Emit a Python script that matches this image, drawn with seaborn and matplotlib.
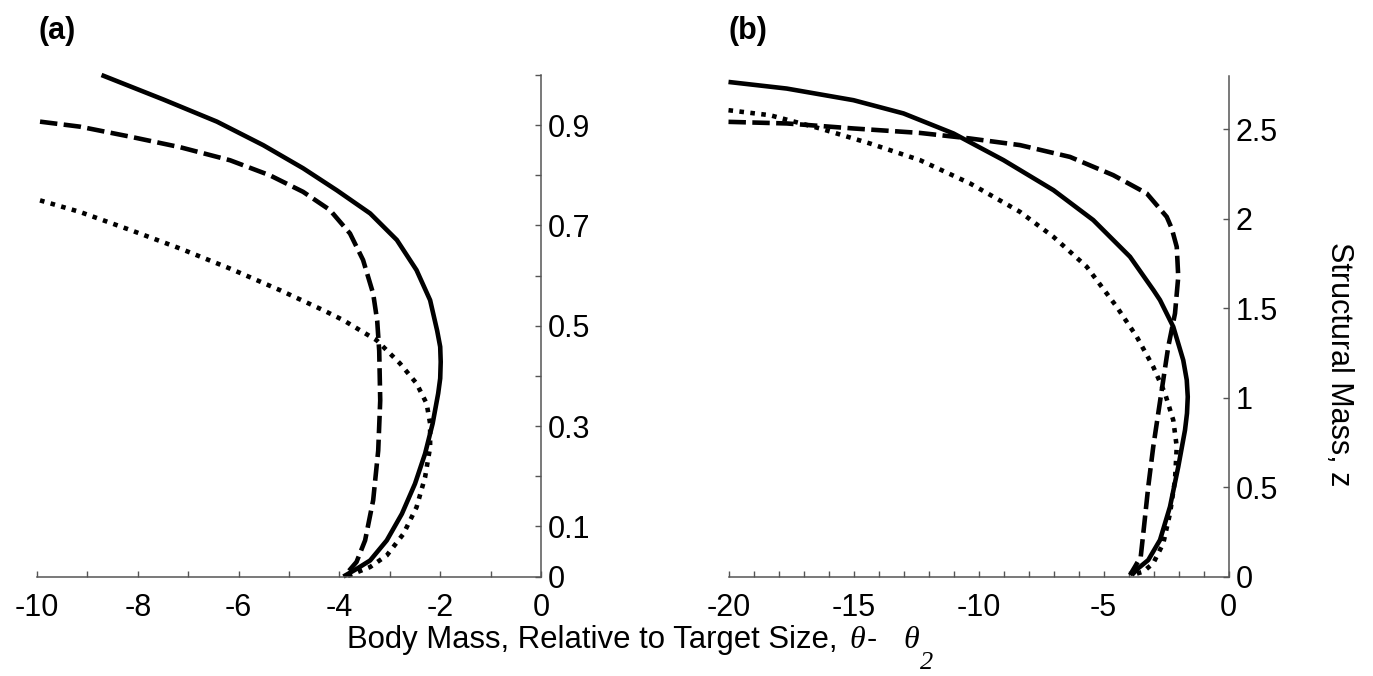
import numpy as np
import pandas as pd
import matplotlib
matplotlib.use("Agg")
import matplotlib.pyplot as plt
import seaborn as sns

# ---------------- data ----------------
# Panel (a)
a_solid_x = [-8.72, -7.49, -6.43, -5.51, -4.72, -4.05, -3.39, -2.86, -2.47, -2.20, -2.06,
             -2.00, -1.99, -2.00, -2.04, -2.15, -2.30, -2.50, -2.76, -3.06, -3.39, -3.66, -3.92]
a_solid_y = [1.000, 0.951, 0.907, 0.860, 0.814, 0.770, 0.724, 0.671, 0.611, 0.551, 0.490,
             0.458, 0.428, 0.395, 0.365, 0.305, 0.245, 0.185, 0.125, 0.072, 0.032, 0.015, 0.000]

a_dash_x = [-9.94, -9.15, -8.15, -7.16, -6.17, -5.38, -4.72, -4.19, -3.79, -3.53, -3.33,
            -3.25, -3.21, -3.19, -3.23, -3.33, -3.49, -3.66, -3.89]
a_dash_y = [0.907, 0.897, 0.877, 0.856, 0.830, 0.800, 0.767, 0.731, 0.684, 0.631, 0.564,
            0.510, 0.450, 0.351, 0.251, 0.152, 0.072, 0.029, 0.002]

a_dot_x = [-9.94, -9.15, -8.15, -7.16, -6.17, -5.18, -4.32, -3.92, -3.26, -2.80, -2.47,
           -2.27, -2.20, -2.20, -2.30, -2.47, -2.73, -3.06, -3.39, -3.86]
a_dot_y = [0.750, 0.727, 0.691, 0.654, 0.614, 0.571, 0.531, 0.511, 0.471, 0.425, 0.385,
           0.345, 0.305, 0.258, 0.198, 0.138, 0.085, 0.042, 0.019, 0.000]

# Panel (b)
b_solid_x = [-20.0, -17.67, -15.0, -13.0, -11.0, -9.0, -7.0, -5.41, -3.94, -3.0, -2.74,
             -2.21, -1.81, -1.67, -1.63, -1.66, -1.74, -2.01, -2.34, -2.74, -3.21, -3.61, -3.87]
b_solid_y = [2.764, 2.727, 2.662, 2.588, 2.476, 2.327, 2.159, 1.992, 1.787, 1.600, 1.545,
             1.396, 1.209, 1.098, 1.004, 0.912, 0.818, 0.613, 0.390, 0.204, 0.092, 0.046, 0.008]

b_dash_x = [-20.0, -17.67, -15.0, -12.34, -10.34, -8.34, -6.34, -4.61, -3.27, -2.47, -2.27,
            -2.07, -2.01, -2.14, -2.41, -2.61, -2.81, -3.01, -3.21, -3.38, -3.51, -3.74, -3.94]
b_dash_y = [2.541, 2.532, 2.504, 2.479, 2.448, 2.411, 2.345, 2.243, 2.141, 2.010, 1.945,
            1.842, 1.675, 1.470, 1.284, 1.098, 0.912, 0.725, 0.502, 0.278, 0.111, 0.055, 0.008]

b_dot_x = [-20.0, -18.34, -16.34, -14.34, -12.34, -10.34, -8.34, -7.0, -5.67, -4.47, -3.67,
           -3.01, -2.54, -2.21, -2.07, -2.14, -2.34, -2.61, -3.01, -3.41, -3.87]
b_dot_y = [2.606, 2.578, 2.504, 2.420, 2.327, 2.197, 2.038, 1.898, 1.731, 1.507, 1.340,
           1.172, 1.023, 0.874, 0.725, 0.539, 0.353, 0.185, 0.074, 0.027, 0.008]

a_xticks = list(range(-10, 1))
a_xlabels = [str(v) if v % 2 == 0 else "" for v in a_xticks]
a_yticks = [round(0.1 * i, 1) for i in range(11)]
a_ylabels = ["0", "0.1", "", "0.3", "", "0.5", "", "0.7", "", "0.9", ""]

b_xticks = list(range(-20, 1))
b_xlabels = [str(v) if v % 5 == 0 else "" for v in b_xticks]
b_yticks = [0, 0.5, 1.0, 1.5, 2.0, 2.5]
b_ylabels = ["0", "0.5", "1", "1.5", "2", "2.5"]

panel_labels = ["(a)", "(b)"]
xlabel_main = "Body Mass, Relative to Target Size,"
xlabel_theta = "\u03b8"
xlabel_minus = "-"
xlabel_sub = "2"
ylabel_text = "Structural Mass, z"


def make_df(sx, sy, dx, dy, tx, ty):
    parts = []
    for name, xs, ys in (("solid", sx, sy), ("dashed", dx, dy), ("dotted", tx, ty)):
        parts.append(pd.DataFrame({"x": xs, "y": ys, "curve": name}))
    return pd.concat(parts, ignore_index=True)


df_a = make_df(a_solid_x, a_solid_y, a_dash_x, a_dash_y, a_dot_x, a_dot_y)
df_b = make_df(b_solid_x, b_solid_y, b_dash_x, b_dash_y, b_dot_x, b_dot_y)

# ---------------- style ----------------
sns.set_theme(style="white")
plt.rcParams["font.family"] = ["Liberation Sans", "DejaVu Sans"]
plt.rcParams["axes.unicode_minus"] = False
plt.rcParams["text.color"] = "black"
plt.rcParams["axes.labelcolor"] = "black"
plt.rcParams["xtick.color"] = "black"
plt.rcParams["ytick.color"] = "black"

W, H = 1373, 676
fig = plt.figure(figsize=(W / 100, H / 100), dpi=100)
fig.patch.set_facecolor("white")

ax_a = fig.add_axes([37 / W, 1 - 576.5 / H, (541 - 37) / W, (576.5 - 75) / H])
ax_b = fig.add_axes([728.5 / W, 1 - 576.5 / H, 500 / W, (576.5 - 75.5) / H])

dash_map = {"solid": "", "dashed": (3.8, 1.4), "dotted": (1, 1.4)}
spine_col = "#555555"

for ax, df, xt, xl, yt, yl, xlim, ylim in (
    (ax_a, df_a, a_xticks, a_xlabels, a_yticks, a_ylabels, (-10, 0), (0, 1.0)),
    (ax_b, df_b, b_xticks, b_xlabels, b_yticks, b_ylabels, (-20, 0), (0, 2.8)),
):
    sns.lineplot(data=df, x="x", y="y", style="curve", units="curve",
                 dashes=dash_map, color="black", linewidth=3.3,
                 sort=False, estimator=None, legend=False, ax=ax)
    for ln in ax.get_lines():
        ln.set_clip_on(False)
        ln.set_solid_capstyle("butt")
        ln.set_solid_joinstyle("round")
    ax.set_xlim(*xlim)
    ax.set_ylim(*ylim)
    ax.set_facecolor("white")
    ax.grid(False)
    for s in ("top", "left"):
        ax.spines[s].set_visible(False)
    for s in ("right", "bottom"):
        ax.spines[s].set_visible(True)
        ax.spines[s].set_color(spine_col)
        ax.spines[s].set_linewidth(1.1)
    ax.set_xticks(xt)
    ax.set_xticklabels(xl)
    ax.yaxis.set_ticks_position("right")
    ax.set_yticks(yt)
    ax.set_yticklabels(yl)
    ax.tick_params(axis="x", direction="in", length=4.5, width=1.0, color=spine_col,
                   labelsize=22, pad=12, labelcolor="black", bottom=True)
    ax.tick_params(axis="y", direction="in", length=4.5, width=1.0, color=spine_col,
                   labelsize=22, pad=5, labelcolor="black", left=False, right=True,
                   labelleft=False, labelright=True)
    ax.set_xlabel("")
    ax.set_ylabel("")

fig.text(39 / W, 1 - 39 / H, panel_labels[0], fontsize=22, fontweight="bold",
         ha="left", va="baseline", color="black")
fig.text(728 / W, 1 - 39 / H, panel_labels[1], fontsize=22, fontweight="bold",
         ha="left", va="baseline", color="black")

# x-axis label assembled from pieces (sans text + serif italic theta symbols)
base = 1 - 648 / H
serif_it = dict(family=["Liberation Serif", "DejaVu Serif"], style="italic")
fig.text(347 / W, base, xlabel_main, fontsize=22.4, ha="left", va="baseline", color="black")
fig.text(849 / W, base, xlabel_theta, fontsize=23, ha="left", va="baseline",
         color="black", **serif_it)
fig.text(867 / W, base, xlabel_minus, fontsize=22, ha="left", va="baseline", color="black")
fig.text(903 / W, base, xlabel_theta, fontsize=23, ha="left", va="baseline",
         color="black", **serif_it)
fig.text(920 / W, 1 - 669 / H, xlabel_sub, fontsize=19, ha="left", va="baseline",
         color="black", **serif_it)

fig.text(1339 / W, 1 - 364 / H, ylabel_text, fontsize=22, rotation=270,
         ha="center", va="center", color="black")

fig.savefig("out.png", dpi=100, facecolor="white")
